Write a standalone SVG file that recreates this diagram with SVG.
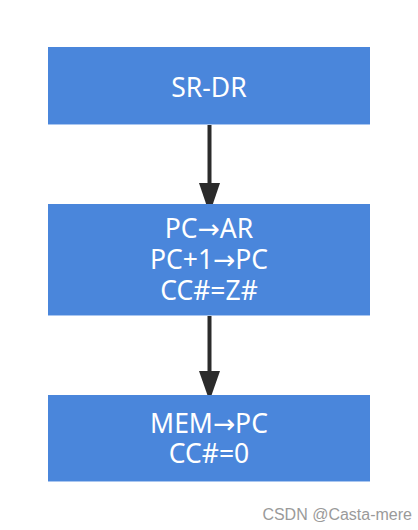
<svg xmlns="http://www.w3.org/2000/svg" width="418" height="530" viewBox="0 0 418 530">
<style>
.box{fill:#4a86db;}
.edge{stroke:#a9c6f0;stroke-width:1;}
.lbl{font-family:"Noto Sans","Open Sans","DejaVu Sans",sans-serif;font-size:26.5px;fill:#ffffff;text-anchor:middle;}
.conn{stroke:#2b2b2b;stroke-width:4;fill:none;}
.head{fill:#2b2b2b;}
.wm{font-family:"Liberation Sans",Arial,sans-serif;font-size:16px;fill:#9a9a9a;text-anchor:end;}
</style>
<rect width="418" height="530" fill="#ffffff"/>
<g id="connectors">
<line class="conn" x1="209.5" y1="125" x2="209.5" y2="186"/>
<polygon class="head" points="199,183 220,183 209.5,214"/>
<line class="conn" x1="209.5" y1="316" x2="209.5" y2="374"/>
<polygon class="head" points="199,371 220,371 209.5,401"/>
</g>
<g id="node-srdr">
<rect class="box" x="48" y="47" width="322" height="78"/>
<line class="edge" x1="48" y1="124.5" x2="370" y2="124.5"/>
<text class="lbl" x="209" y="97">SR-DR</text>
</g>
<g id="node-pc">
<rect class="box" x="48" y="204" width="322" height="112"/>
<line class="edge" x1="48" y1="315.5" x2="370" y2="315.5"/>
<text class="lbl" x="209" y="238">PC→AR</text>
<text class="lbl" x="209" y="269">PC+1→PC</text>
<text class="lbl" x="209" y="300">CC#=Z#</text>
</g>
<g id="node-mem">
<rect class="box" x="48" y="395" width="322" height="87"/>
<line class="edge" x1="48" y1="481.5" x2="370" y2="481.5"/>
<text class="lbl" x="209" y="433">MEM→PC</text>
<text class="lbl" x="209" y="463">CC#=0</text>
</g>
<text class="wm" x="412" y="520">CSDN @Casta-mere</text>
</svg>
